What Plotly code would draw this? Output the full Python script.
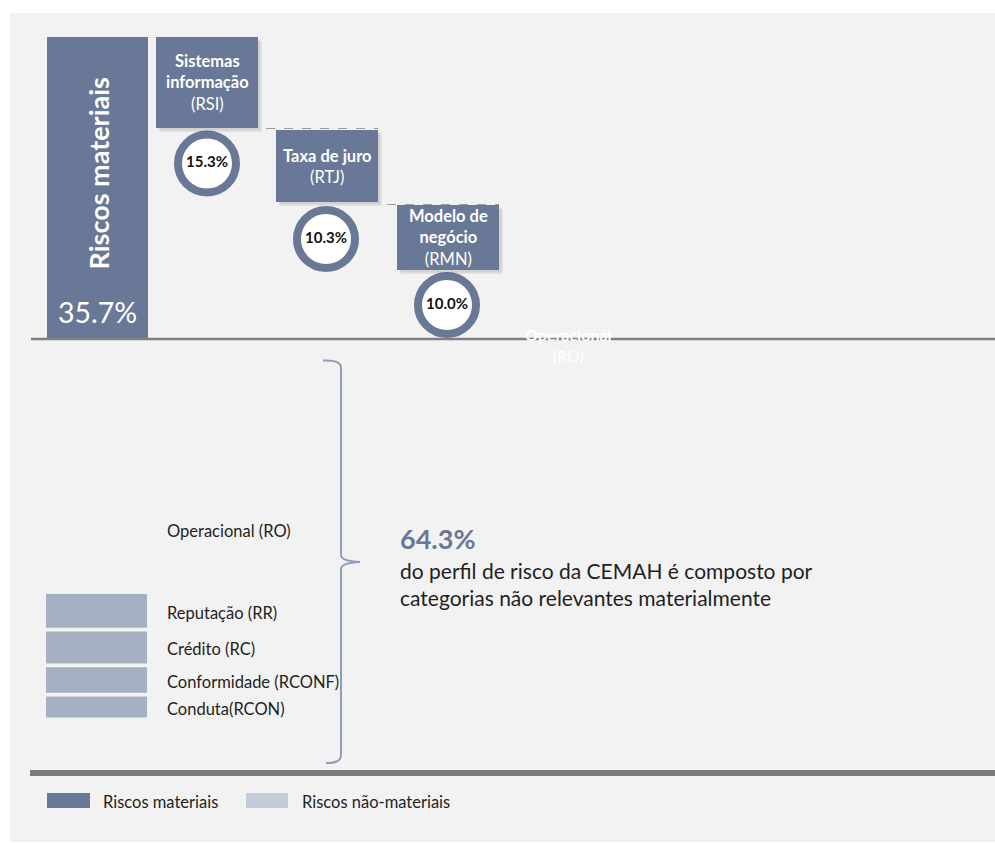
import plotly.graph_objects as go

# ---------------- data ----------------
material_title = "Riscos materiais"
material_total = 35.7
material_names = ["Sistemas<br>informação", "Taxa de juro", "Modelo de<br>negócio"]
material_codes = ["RSI", "RTJ", "RMN"]
material_values = [15.3, 10.3, 10.0]

nonmaterial_total = 64.3
nonmaterial_note = "do perfil de risco da CEMAH é composto por<br>categorias não relevantes materialmente"
hidden_name = "Operacional"
hidden_code = "RO"
nonmaterial_labels = ["Reputação (RR)", "Crédito (RC)", "Conformidade (RCONF)", "Conduta(RCON)"]
nonmaterial_values = [4.0, 3.8, 3.0, 2.5]

legend_labels = ["Riscos materiais", "Riscos não-materiais"]

# ---------------- layout constants ----------------
W, H = 995, 843
PX_PER_PCT = 8.43              # vertical scale: pixels per percentage point
FONT = "Lato, 'Open Sans', sans-serif"
DARK = "#687896"
LIGHT = "#a6b0c3"
LEGEND_LIGHT = "#c5ccd9"
BRACE = "#8e9dba"
TEXT = "#1f1f1f"


def Y(px):
    """convert a page pixel row to the percent-unit y axis"""
    return (H - px) / PX_PER_PCT


baseline = Y(338)
bar_x, bar_w = 97.5, 101

fig = go.Figure()

# material total bar
fig.add_trace(go.Bar(
    x=[bar_x], y=[material_total], base=[baseline], width=[bar_w],
    marker=dict(color=DARK, line=dict(width=0)), hoverinfo="skip", showlegend=False))

# non-material stacked bars (downwards)
gap = 0.45
top = Y(594)
bases, mids = [], []
for v in nonmaterial_values:
    b = top - v
    bases.append(b)
    mids.append((top + b) / 2)
    top = b - gap
fig.add_trace(go.Bar(
    x=[96.5] * len(nonmaterial_values), y=nonmaterial_values, base=bases,
    width=[101] * len(nonmaterial_values),
    marker=dict(color=LIGHT, line=dict(width=0)), hoverinfo="skip", showlegend=False))

# circles with material values
circle_x = [207, 326, 447]
circle_y = [Y(163.5), Y(239), Y(305)]
fig.add_trace(go.Scatter(
    x=circle_x, y=circle_y, mode="markers+text",
    text=[f"<b>{v:.1f}%</b>" for v in material_values],
    textposition="middle center",
    textfont=dict(family=FONT, size=15, color="#111111"),
    marker=dict(size=58, color="white", line=dict(width=8, color=DARK)),
    hoverinfo="skip", showlegend=False))

shapes = []
annotations = []

# panel background
shapes.append(dict(type="rect", xref="x", yref="y", x0=10, x1=995, y0=Y(13), y1=Y(842),
                   fillcolor="#f2f2f2", line=dict(width=0), layer="below"))

# dashed connectors
for x0, x1, py in [(266, 378, 128.5), (387, 499, 204.5)]:
    shapes.append(dict(type="line", xref="x", yref="y", x0=x0, x1=x1, y0=Y(py), y1=Y(py),
                       line=dict(color="#9a9a9a", width=1, dash="dash")))

# label boxes for material categories
boxes = [(156, 258, 37, 128), (276, 378, 130, 202), (397, 499, 205, 270)]
for (x0, x1, y0, y1), name, code in zip(boxes, material_names, material_codes):
    for off, alpha in [(4, 0.06), (2.5, 0.08)]:
        shapes.append(dict(type="rect", xref="x", yref="y", x0=x0 + off, x1=x1 + off,
                           y0=Y(y0 + off), y1=Y(y1 + off),
                           fillcolor=f"rgba(0,0,0,{alpha})", line=dict(width=0)))
    shapes.append(dict(type="rect", xref="x", yref="y", x0=x0, x1=x1, y0=Y(y0), y1=Y(y1),
                       fillcolor=DARK, line=dict(width=0)))
    annotations.append(dict(x=(x0 + x1) / 2, y=Y((y0 + y1) / 2), xref="x", yref="y",
                            text=f"<b>{name}</b><br>({code})", showarrow=False,
                            font=dict(family=FONT, size=16.5, color="white"),
                            xanchor="center", yanchor="middle", align="center"))

# baseline and bottom separator
shapes.append(dict(type="line", xref="x", yref="y", x0=31, x1=995, y0=Y(339), y1=Y(339),
                   line=dict(color="#808080", width=2.5)))
shapes.append(dict(type="line", xref="x", yref="y", x0=30, x1=995, y0=Y(773), y1=Y(773),
                   line=dict(color="#7a7a7a", width=6)))

# brace
pts = [("M", 323, 360.5), ("Q", 341, 359.5, 341, 368), ("L", 341, 555),
       ("Q", 341, 561, 360, 562), ("Q", 341, 563, 341, 569), ("L", 341, 755),
       ("Q", 341, 763.5, 326, 763)]
path = ""
for p in pts:
    cmd = p[0]
    coords = p[1:]
    segs = []
    for i in range(0, len(coords), 2):
        segs.append(f"{coords[i]},{Y(coords[i + 1]):.4f}")
    path += cmd + " " + " ".join(segs) + " "
shapes.append(dict(type="path", xref="x", yref="y", path=path.strip(),
                   line=dict(color=BRACE, width=2)))

# legend swatches
shapes.append(dict(type="rect", xref="x", yref="y", x0=47, x1=90, y0=Y(793), y1=Y(808),
                   fillcolor=DARK, line=dict(width=0)))
shapes.append(dict(type="rect", xref="x", yref="y", x0=246, x1=288, y0=Y(793), y1=Y(808),
                   fillcolor=LEGEND_LIGHT, line=dict(width=0)))
annotations.append(dict(x=101, y=Y(801.5), xref="x", yref="y", text=legend_labels[0],
                        showarrow=False, xanchor="left", yanchor="middle",
                        font=dict(family=FONT, size=16.5, color=TEXT)))
annotations.append(dict(x=300, y=Y(801.5), xref="x", yref="y", text=legend_labels[1],
                        showarrow=False, xanchor="left", yanchor="middle",
                        font=dict(family=FONT, size=16.5, color=TEXT)))

# big bar texts
annotations.append(dict(x=bar_x, y=Y(174), xref="x", yref="y", text=f"<b>{material_title}</b>",
                        textangle=-90, showarrow=False, xanchor="center", yanchor="middle",
                        font=dict(family=FONT, size=27, color="white")))
annotations.append(dict(x=bar_x, y=Y(312), xref="x", yref="y", text=f"{material_total:.1f}%",
                        showarrow=False, xanchor="center", yanchor="middle",
                        font=dict(family=FONT, size=28.5, color="white")))

# faint hidden operational label
annotations.append(dict(x=568, y=Y(344.5), xref="x", yref="y",
                        text=f"<b>{hidden_name}</b><br>({hidden_code})",
                        showarrow=False, xanchor="center", yanchor="middle",
                        font=dict(family=FONT, size=16, color="white")))

# left labels
annotations.append(dict(x=165, y=Y(531), xref="x", yref="y", text=f"{hidden_name} ({hidden_code})",
                        showarrow=False, xanchor="left", yanchor="middle",
                        font=dict(family=FONT, size=16.5, color=TEXT)))
for lab, m in zip(nonmaterial_labels, mids):
    annotations.append(dict(x=165, y=m - 0.2, xref="x", yref="y", text=lab,
                            showarrow=False, xanchor="left", yanchor="middle",
                            font=dict(family=FONT, size=16.5, color=TEXT)))

# non-material summary
annotations.append(dict(x=398, y=Y(538), xref="x", yref="y", text=f"<b>{nonmaterial_total:.1f}%</b>",
                        showarrow=False, xanchor="left", yanchor="middle",
                        font=dict(family=FONT, size=27, color=DARK)))
annotations.append(dict(x=398, y=Y(584), xref="x", yref="y", text=nonmaterial_note,
                        showarrow=False, xanchor="left", yanchor="middle", align="left",
                        font=dict(family=FONT, size=21, color=TEXT)))

fig.update_layout(
    width=W, height=H, margin=dict(l=0, r=0, t=0, b=0),
    paper_bgcolor="white", plot_bgcolor="rgba(0,0,0,0)",
    barmode="overlay",
    xaxis=dict(range=[0, W], visible=False, fixedrange=True),
    yaxis=dict(range=[0, H / PX_PER_PCT], visible=False, fixedrange=True),
    shapes=shapes, annotations=annotations,
    font=dict(family=FONT),
)

fig.write_html("out.html", config={"displayModeBar": False})
